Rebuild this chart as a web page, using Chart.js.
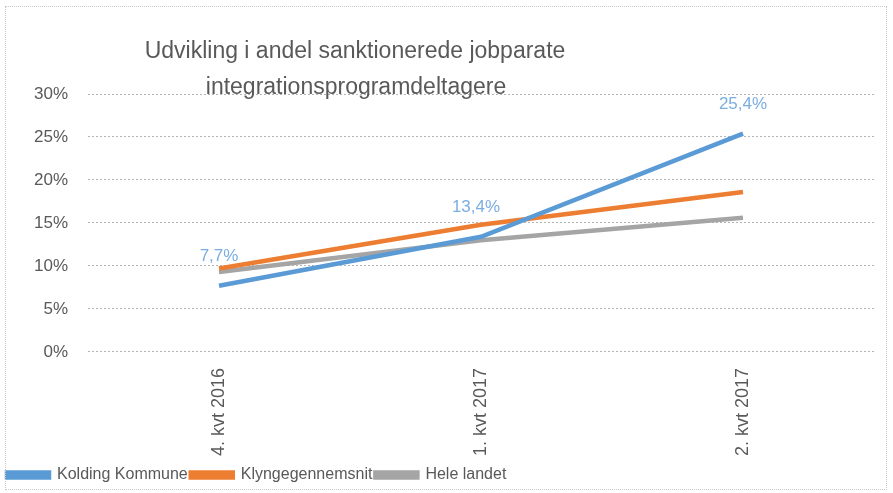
<!DOCTYPE html>
<html>
<head>
<meta charset="utf-8">
<script src="https://cdn.jsdelivr.net/npm/chart.js@4/dist/chart.umd.min.js"></script>
<style>
  html, body { margin: 0; padding: 0; background: #fff; }
  #wrap { position: relative; width: 893px; height: 493px; }
  #frame { position: absolute; left: 5px; top: 6px; width: 880px; height: 482px; border: 1px dotted #c8c8c8; pointer-events: none; }
</style>
</head>
<body>
<div id="wrap">
  <canvas id="chart" width="893" height="493"></canvas>
  <div id="frame"></div>
</div>
<script>
const ctx = document.getElementById('chart').getContext('2d');

// kategorier og serier
const quarters = ['4. kvt 2016', '1. kvt 2017', '2. kvt 2017'];
const kolding = [7.7, 13.4, 25.4];
const klynge = [9.7, 14.8, 18.6];
const heleLandet = [9.3, 13.0, 15.6];
const titleLines = ['Udvikling i andel sanktionerede jobparate', 'integrationsprogramdeltagere'];

const fontFamily = '"Liberation Sans", Arial, sans-serif';
const textColor = '#595959';

// titel tegnet oven i plotområdet, som i Excel-grafen
const titlePlugin = {
    id: 'overlayTitle',
    afterDraw(chart) {
        const c = chart.ctx;
        c.save();
        c.font = '23px ' + fontFamily;
        c.fillStyle = textColor;
        c.textAlign = 'center';
        c.textBaseline = 'middle';
        c.fillText(titleLines[0], 355, 52);
        c.fillText(titleLines[1], 356, 88);
        c.restore();
    }
};

// dataetiketter kun for Kolding Kommune
const labelPlugin = {
    id: 'pointLabels',
    afterDatasetsDraw(chart) {
        const meta = chart.getDatasetMeta(0);
        const c = chart.ctx;
        c.save();
        c.font = '17px ' + fontFamily;
        c.fillStyle = '#7aaee0';
        c.textAlign = 'center';
        c.textBaseline = 'middle';
        meta.data.forEach((pt, i) => {
            const txt = kolding[i].toFixed(1).replace('.', ',') + '%';
            c.fillText(txt, pt.x - (i === 1 ? 5 : 0), pt.y - 29);
        });
        c.restore();
    }
};

const chart = new Chart(ctx, {
    type: 'line',
    data: {
        labels: quarters,
        datasets: [{
            label: 'Kolding Kommune',
            data: kolding,
            borderColor: '#5b9bd5',
            backgroundColor: '#5b9bd5',
        }, {
            label: 'Klyngegennemsnit',
            data: klynge,
            borderColor: '#ed7d31',
            backgroundColor: '#ed7d31',
        }, {
            label: 'Hele landet',
            data: heleLandet,
            borderColor: '#a5a5a5',
            backgroundColor: '#a5a5a5',
        }]
    },
    options: {
        responsive: false,
        animation: false,
        layout: { padding: { top: 94, left: 4, right: 19, bottom: 0 } },
        elements: {
            line: { borderWidth: 4.5, tension: 0 },
            point: { radius: 0, hoverRadius: 0 }
        },
        plugins: {
            title: { display: false },
            tooltip: { enabled: false },
            legend: {
                position: 'bottom',
                align: 'start',
                labels: {
                    boxWidth: 42,
                    boxHeight: 5,
                    padding: 3,
                    color: textColor,
                    font: { family: fontFamily, size: 16 }
                }
            }
        },
        scales: {
            x: {
                offset: true,
                grid: { display: false },
                border: { display: false },
                ticks: {
                    color: textColor,
                    font: { family: fontFamily, size: 18 },
                    minRotation: 90,
                    maxRotation: 90,
                    padding: 8
                }
            },
            y: {
                min: 0,
                max: 30,
                afterFit(axis) { axis.width = 84; },
                border: { display: false, dash: [2, 2] },
                grid: { color: '#b4b4b4', drawTicks: false, lineWidth: 1 },
                ticks: {
                    stepSize: 5,
                    padding: 20,
                    color: textColor,
                    font: { family: fontFamily, size: 17 },
                    callback: v => v + '%'
                }
            }
        }
    },
    plugins: [titlePlugin, labelPlugin]
});
</script>
</body>
</html>
